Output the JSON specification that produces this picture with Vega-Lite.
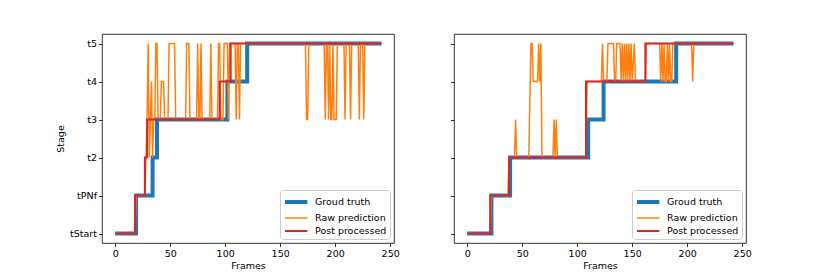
{
  "$schema": "https://vega.github.io/schema/vega-lite/v6.json",
  "background": "white",
  "padding": {"left": 55, "top": 33, "right": 0, "bottom": 0},
  "spacing": 49,
  "config": {
    "font": "DejaVu Sans",
    "view": {"stroke": "#000", "strokeWidth": 0.8},
    "axis": {"labelFont": "DejaVu Sans", "labelFontSize": 9.5, "labelColor": "#000", "tickColor": "#000", "tickSize": 3.5, "tickWidth": 0.8, "labelPadding": 2, "titleFont": "DejaVu Sans", "titleFontSize": 9.5, "titleFontWeight": "normal", "titleColor": "#000", "grid": false, "domain": false},
    "axisX": {"titlePadding": 2},
    "axisY": {"titlePadding": 4},
    "legend": {"orient": "bottom-right", "offset": 4, "fillColor": "#fff", "strokeColor": "#cccccc", "cornerRadius": 3, "padding": 3, "labelFont": "DejaVu Sans", "labelFontSize": 9.5, "labelColor": "#000", "symbolSize": 196, "labelOffset": 14, "rowPadding": 0}
  },
  "datasets": {
    "left": [
      {"series": "Groud truth", "frame": 0, "stage": "tStart"},
      {"series": "Groud truth", "frame": 19, "stage": "tPNf"},
      {"series": "Groud truth", "frame": 34, "stage": "t2"},
      {"series": "Groud truth", "frame": 38, "stage": "t3"},
      {"series": "Groud truth", "frame": 102, "stage": "t4"},
      {"series": "Groud truth", "frame": 120, "stage": "t5"},
      {"series": "Groud truth", "frame": 242, "stage": "t5"},
      {"series": "Post processed", "frame": 0, "stage": "tStart"},
      {"series": "Post processed", "frame": 18, "stage": "tPNf"},
      {"series": "Post processed", "frame": 27, "stage": "t2"},
      {"series": "Post processed", "frame": 29, "stage": "t3"},
      {"series": "Post processed", "frame": 95, "stage": "t4"},
      {"series": "Post processed", "frame": 105, "stage": "t5"},
      {"series": "Post processed", "frame": 242, "stage": "t5"},
      {"series": "Raw prediction", "frame": 0, "stage": "tStart"},
      {"series": "Raw prediction", "frame": 18, "stage": "tStart"},
      {"series": "Raw prediction", "frame": 19, "stage": "tPNf"},
      {"series": "Raw prediction", "frame": 27, "stage": "tPNf"},
      {"series": "Raw prediction", "frame": 28, "stage": "t2"},
      {"series": "Raw prediction", "frame": 29, "stage": "t3"},
      {"series": "Raw prediction", "frame": 30, "stage": "t5"},
      {"series": "Raw prediction", "frame": 31, "stage": "t2"},
      {"series": "Raw prediction", "frame": 32, "stage": "t3"},
      {"series": "Raw prediction", "frame": 33, "stage": "t4"},
      {"series": "Raw prediction", "frame": 34, "stage": "t2"},
      {"series": "Raw prediction", "frame": 35, "stage": "t3"},
      {"series": "Raw prediction", "frame": 36, "stage": "t3"},
      {"series": "Raw prediction", "frame": 37, "stage": "t5"},
      {"series": "Raw prediction", "frame": 38, "stage": "t5"},
      {"series": "Raw prediction", "frame": 39, "stage": "t3"},
      {"series": "Raw prediction", "frame": 41, "stage": "t3"},
      {"series": "Raw prediction", "frame": 42, "stage": "t4"},
      {"series": "Raw prediction", "frame": 44, "stage": "t4"},
      {"series": "Raw prediction", "frame": 45, "stage": "t3"},
      {"series": "Raw prediction", "frame": 48, "stage": "t3"},
      {"series": "Raw prediction", "frame": 49, "stage": "t5"},
      {"series": "Raw prediction", "frame": 54, "stage": "t5"},
      {"series": "Raw prediction", "frame": 55, "stage": "t3"},
      {"series": "Raw prediction", "frame": 64, "stage": "t3"},
      {"series": "Raw prediction", "frame": 65, "stage": "t5"},
      {"series": "Raw prediction", "frame": 67, "stage": "t5"},
      {"series": "Raw prediction", "frame": 68, "stage": "t3"},
      {"series": "Raw prediction", "frame": 74, "stage": "t3"},
      {"series": "Raw prediction", "frame": 75, "stage": "t5"},
      {"series": "Raw prediction", "frame": 76, "stage": "t3"},
      {"series": "Raw prediction", "frame": 77, "stage": "t3"},
      {"series": "Raw prediction", "frame": 78, "stage": "t5"},
      {"series": "Raw prediction", "frame": 79, "stage": "t3"},
      {"series": "Raw prediction", "frame": 86, "stage": "t3"},
      {"series": "Raw prediction", "frame": 87, "stage": "t5"},
      {"series": "Raw prediction", "frame": 88, "stage": "t3"},
      {"series": "Raw prediction", "frame": 93, "stage": "t3"},
      {"series": "Raw prediction", "frame": 94, "stage": "t5"},
      {"series": "Raw prediction", "frame": 95, "stage": "t5"},
      {"series": "Raw prediction", "frame": 96, "stage": "t3"},
      {"series": "Raw prediction", "frame": 98, "stage": "t3"},
      {"series": "Raw prediction", "frame": 99, "stage": "t5"},
      {"series": "Raw prediction", "frame": 102, "stage": "t5"},
      {"series": "Raw prediction", "frame": 103, "stage": "t3"},
      {"series": "Raw prediction", "frame": 104, "stage": "t5"},
      {"series": "Raw prediction", "frame": 109, "stage": "t5"},
      {"series": "Raw prediction", "frame": 110, "stage": "t3"},
      {"series": "Raw prediction", "frame": 111, "stage": "t5"},
      {"series": "Raw prediction", "frame": 112, "stage": "t5"},
      {"series": "Raw prediction", "frame": 113, "stage": "t3"},
      {"series": "Raw prediction", "frame": 114, "stage": "t5"},
      {"series": "Raw prediction", "frame": 173, "stage": "t5"},
      {"series": "Raw prediction", "frame": 174, "stage": "t3"},
      {"series": "Raw prediction", "frame": 175, "stage": "t3"},
      {"series": "Raw prediction", "frame": 176, "stage": "t5"},
      {"series": "Raw prediction", "frame": 190, "stage": "t5"},
      {"series": "Raw prediction", "frame": 191, "stage": "t3"},
      {"series": "Raw prediction", "frame": 192, "stage": "t5"},
      {"series": "Raw prediction", "frame": 193, "stage": "t5"},
      {"series": "Raw prediction", "frame": 194, "stage": "t3"},
      {"series": "Raw prediction", "frame": 195, "stage": "t5"},
      {"series": "Raw prediction", "frame": 196, "stage": "t3"},
      {"series": "Raw prediction", "frame": 197, "stage": "t3"},
      {"series": "Raw prediction", "frame": 198, "stage": "t5"},
      {"series": "Raw prediction", "frame": 199, "stage": "t3"},
      {"series": "Raw prediction", "frame": 201, "stage": "t3"},
      {"series": "Raw prediction", "frame": 202, "stage": "t5"},
      {"series": "Raw prediction", "frame": 208, "stage": "t5"},
      {"series": "Raw prediction", "frame": 209, "stage": "t3"},
      {"series": "Raw prediction", "frame": 210, "stage": "t5"},
      {"series": "Raw prediction", "frame": 213, "stage": "t5"},
      {"series": "Raw prediction", "frame": 214, "stage": "t3"},
      {"series": "Raw prediction", "frame": 215, "stage": "t5"},
      {"series": "Raw prediction", "frame": 221, "stage": "t5"},
      {"series": "Raw prediction", "frame": 222, "stage": "t3"},
      {"series": "Raw prediction", "frame": 223, "stage": "t5"},
      {"series": "Raw prediction", "frame": 225, "stage": "t5"},
      {"series": "Raw prediction", "frame": 226, "stage": "t3"},
      {"series": "Raw prediction", "frame": 227, "stage": "t5"},
      {"series": "Raw prediction", "frame": 242, "stage": "t5"}
    ],
    "right": [
      {"series": "Groud truth", "frame": 0, "stage": "tStart"},
      {"series": "Groud truth", "frame": 22, "stage": "tPNf"},
      {"series": "Groud truth", "frame": 39, "stage": "t2"},
      {"series": "Groud truth", "frame": 110, "stage": "t3"},
      {"series": "Groud truth", "frame": 124, "stage": "t4"},
      {"series": "Groud truth", "frame": 190, "stage": "t5"},
      {"series": "Groud truth", "frame": 242, "stage": "t5"},
      {"series": "Post processed", "frame": 0, "stage": "tStart"},
      {"series": "Post processed", "frame": 21, "stage": "tPNf"},
      {"series": "Post processed", "frame": 38, "stage": "t2"},
      {"series": "Post processed", "frame": 108, "stage": "t4"},
      {"series": "Post processed", "frame": 162, "stage": "t5"},
      {"series": "Post processed", "frame": 242, "stage": "t5"},
      {"series": "Raw prediction", "frame": 0, "stage": "tStart"},
      {"series": "Raw prediction", "frame": 21, "stage": "tStart"},
      {"series": "Raw prediction", "frame": 22, "stage": "tPNf"},
      {"series": "Raw prediction", "frame": 37, "stage": "tPNf"},
      {"series": "Raw prediction", "frame": 38, "stage": "t2"},
      {"series": "Raw prediction", "frame": 43, "stage": "t2"},
      {"series": "Raw prediction", "frame": 44, "stage": "t3"},
      {"series": "Raw prediction", "frame": 45, "stage": "t2"},
      {"series": "Raw prediction", "frame": 56, "stage": "t2"},
      {"series": "Raw prediction", "frame": 58, "stage": "t5"},
      {"series": "Raw prediction", "frame": 59, "stage": "t5"},
      {"series": "Raw prediction", "frame": 60, "stage": "t4"},
      {"series": "Raw prediction", "frame": 64, "stage": "t4"},
      {"series": "Raw prediction", "frame": 65, "stage": "t5"},
      {"series": "Raw prediction", "frame": 66, "stage": "t4"},
      {"series": "Raw prediction", "frame": 67, "stage": "t5"},
      {"series": "Raw prediction", "frame": 68, "stage": "t2"},
      {"series": "Raw prediction", "frame": 78, "stage": "t2"},
      {"series": "Raw prediction", "frame": 79, "stage": "t3"},
      {"series": "Raw prediction", "frame": 80, "stage": "t2"},
      {"series": "Raw prediction", "frame": 81, "stage": "t3"},
      {"series": "Raw prediction", "frame": 82, "stage": "t2"},
      {"series": "Raw prediction", "frame": 108, "stage": "t2"},
      {"series": "Raw prediction", "frame": 109, "stage": "t4"},
      {"series": "Raw prediction", "frame": 122, "stage": "t4"},
      {"series": "Raw prediction", "frame": 123, "stage": "t5"},
      {"series": "Raw prediction", "frame": 124, "stage": "t4"},
      {"series": "Raw prediction", "frame": 127, "stage": "t4"},
      {"series": "Raw prediction", "frame": 128, "stage": "t5"},
      {"series": "Raw prediction", "frame": 133, "stage": "t5"},
      {"series": "Raw prediction", "frame": 134, "stage": "t4"},
      {"series": "Raw prediction", "frame": 135, "stage": "t4"},
      {"series": "Raw prediction", "frame": 136, "stage": "t5"},
      {"series": "Raw prediction", "frame": 139, "stage": "t5"},
      {"series": "Raw prediction", "frame": 140, "stage": "t4"},
      {"series": "Raw prediction", "frame": 141, "stage": "t5"},
      {"series": "Raw prediction", "frame": 142, "stage": "t4"},
      {"series": "Raw prediction", "frame": 143, "stage": "t5"},
      {"series": "Raw prediction", "frame": 144, "stage": "t4"},
      {"series": "Raw prediction", "frame": 145, "stage": "t5"},
      {"series": "Raw prediction", "frame": 146, "stage": "t4"},
      {"series": "Raw prediction", "frame": 147, "stage": "t5"},
      {"series": "Raw prediction", "frame": 148, "stage": "t4"},
      {"series": "Raw prediction", "frame": 149, "stage": "t5"},
      {"series": "Raw prediction", "frame": 150, "stage": "t4"},
      {"series": "Raw prediction", "frame": 152, "stage": "t5"},
      {"series": "Raw prediction", "frame": 153, "stage": "t4"},
      {"series": "Raw prediction", "frame": 162, "stage": "t4"},
      {"series": "Raw prediction", "frame": 163, "stage": "t5"},
      {"series": "Raw prediction", "frame": 175, "stage": "t5"},
      {"series": "Raw prediction", "frame": 176, "stage": "t4"},
      {"series": "Raw prediction", "frame": 177, "stage": "t5"},
      {"series": "Raw prediction", "frame": 178, "stage": "t4"},
      {"series": "Raw prediction", "frame": 179, "stage": "t5"},
      {"series": "Raw prediction", "frame": 180, "stage": "t4"},
      {"series": "Raw prediction", "frame": 181, "stage": "t4"},
      {"series": "Raw prediction", "frame": 182, "stage": "t5"},
      {"series": "Raw prediction", "frame": 183, "stage": "t4"},
      {"series": "Raw prediction", "frame": 184, "stage": "t5"},
      {"series": "Raw prediction", "frame": 185, "stage": "t4"},
      {"series": "Raw prediction", "frame": 186, "stage": "t4"},
      {"series": "Raw prediction", "frame": 187, "stage": "t5"},
      {"series": "Raw prediction", "frame": 204, "stage": "t5"},
      {"series": "Raw prediction", "frame": 205, "stage": "t4"},
      {"series": "Raw prediction", "frame": 206, "stage": "t5"},
      {"series": "Raw prediction", "frame": 242, "stage": "t5"}
    ]
  },
  "resolve": {
    "scale": {"color": "independent", "strokeWidth": "independent"},
    "legend": {"color": "independent", "strokeWidth": "independent"}
  },
  "hconcat": [
    {
      "width": 292,
      "height": 209,
      "data": {"name": "left"},
      "encoding": {
        "x": {"field": "frame", "type": "quantitative", "scale": {"domain": [-12, 253.5], "nice": false, "zero": false}, "axis": {"values": [0, 50, 100, 150, 200, 250], "title": "Frames"}},
        "y": {"field": "stage", "type": "ordinal", "scale": {"type": "point", "domain": ["tStart", "tPNf", "t2", "t3", "t4", "t5"], "padding": 0.25, "reverse": true}, "axis": {"title": "Stage"}},
        "order": {"field": "frame", "type": "quantitative"},
        "color": {"field": "series", "type": "nominal", "scale": {"domain": ["Groud truth", "Raw prediction", "Post processed"], "range": ["#1f77b4", "#ff7f0e", "#d62728"]}, "legend": {"title": null, "symbolType": "M-1,0H2.2"}},
        "strokeWidth": {"field": "series", "type": "nominal", "scale": {"type": "ordinal", "domain": ["Groud truth", "Raw prediction", "Post processed"], "range": [4, 1.5, 2]}, "legend": {"title": null, "symbolType": "M-1,0H2.2"}}
      },
      "layer": [
        {"transform": [{"filter": "datum.series === 'Groud truth'"}], "mark": {"type": "line", "interpolate": "step-after", "orient": "horizontal"}},
        {"transform": [{"filter": "datum.series === 'Raw prediction'"}], "mark": {"type": "line", "interpolate": "linear", "orient": "horizontal"}},
        {"transform": [{"filter": "datum.series === 'Post processed'"}], "mark": {"type": "line", "interpolate": "step-after", "orient": "horizontal"}}
      ]
    },
    {
      "width": 292,
      "height": 209,
      "data": {"name": "right"},
      "encoding": {
        "x": {"field": "frame", "type": "quantitative", "scale": {"domain": [-12, 253.5], "nice": false, "zero": false}, "axis": {"values": [0, 50, 100, 150, 200, 250], "title": "Frames"}},
        "y": {"field": "stage", "type": "ordinal", "scale": {"type": "point", "domain": ["tStart", "tPNf", "t2", "t3", "t4", "t5"], "padding": 0.25, "reverse": true}, "axis": {"title": null, "labels": false}},
        "order": {"field": "frame", "type": "quantitative"},
        "color": {"field": "series", "type": "nominal", "scale": {"domain": ["Groud truth", "Raw prediction", "Post processed"], "range": ["#1f77b4", "#ff7f0e", "#d62728"]}, "legend": {"title": null, "symbolType": "M-1,0H2.2"}},
        "strokeWidth": {"field": "series", "type": "nominal", "scale": {"type": "ordinal", "domain": ["Groud truth", "Raw prediction", "Post processed"], "range": [4, 1.5, 2]}, "legend": {"title": null, "symbolType": "M-1,0H2.2"}}
      },
      "layer": [
        {"transform": [{"filter": "datum.series === 'Groud truth'"}], "mark": {"type": "line", "interpolate": "step-after", "orient": "horizontal"}},
        {"transform": [{"filter": "datum.series === 'Raw prediction'"}], "mark": {"type": "line", "interpolate": "linear", "orient": "horizontal"}},
        {"transform": [{"filter": "datum.series === 'Post processed'"}], "mark": {"type": "line", "interpolate": "step-after", "orient": "horizontal"}}
      ]
    }
  ]
}
